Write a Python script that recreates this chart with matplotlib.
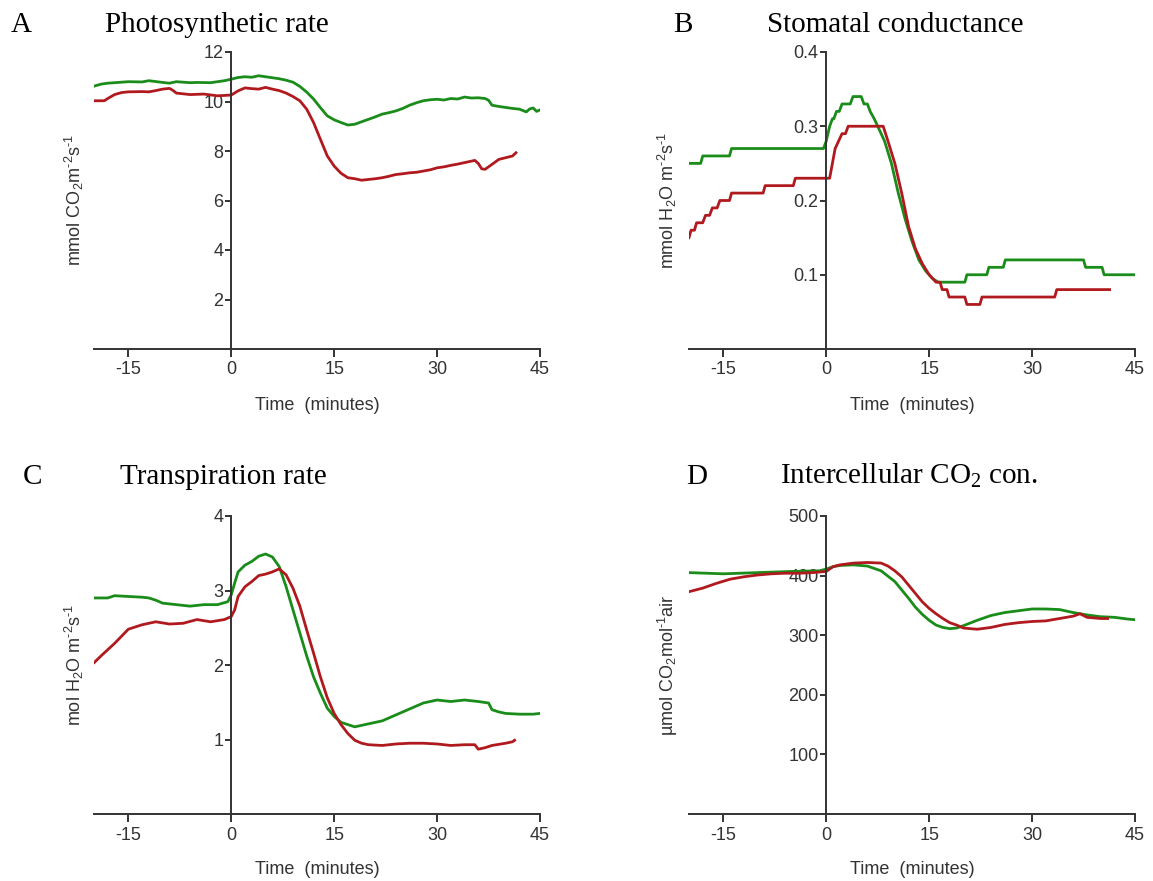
import numpy as np
import matplotlib
matplotlib.use("Agg")
import matplotlib.pyplot as plt

plt.rcParams["font.family"] = ["Liberation Sans", "DejaVu Sans"]
plt.rcParams["mathtext.fontset"] = "custom"
plt.rcParams["mathtext.rm"] = "Liberation Sans"
plt.rcParams["mathtext.it"] = "Liberation Sans"
plt.rcParams["mathtext.default"] = "regular"
plt.rcParams["axes.unicode_minus"] = False

GREEN = "#1a8c1a"
RED = "#b01a1e"
INK = "#333333"

# ---- A: photosynthetic rate (mmol CO2 m-2 s-1)
a_t_green = [-20, -19, -18, -17, -15, -13, -12, -10, -9, -8, -6, -5, -3, -1, 0, 1, 2, 3, 4, 5, 6, 7, 8, 9, 10, 11,
             12, 13, 14, 15, 16, 17, 18, 19, 20, 21, 22, 23, 24, 25, 26, 27, 28, 29, 30, 31, 32, 33, 34, 35, 36,
             37, 37.5, 38, 39, 40, 41, 42, 43, 43.5, 44, 44.5, 45]
a_green = [10.62, 10.70, 10.74, 10.76, 10.80, 10.79, 10.84, 10.77, 10.74, 10.80, 10.76, 10.77, 10.76, 10.84, 10.90,
           10.97, 11.00, 10.98, 11.04, 11.00, 10.96, 10.92, 10.86, 10.78, 10.61, 10.38, 10.10, 9.75, 9.42, 9.26,
           9.15, 9.05, 9.08, 9.18, 9.28, 9.38, 9.49, 9.55, 9.62, 9.72, 9.85, 9.95, 10.03, 10.07, 10.09, 10.06,
           10.12, 10.10, 10.18, 10.14, 10.15, 10.12, 10.05, 9.85, 9.80, 9.76, 9.72, 9.69, 9.58, 9.70, 9.74, 9.60, 9.66]
a_t_red = [-20, -18.5, -18, -17, -16, -15, -13, -12, -11, -10, -9, -8.5, -8, -6, -4, -2, 0, 1, 2, 3, 4, 5, 6, 7, 8,
           9, 10, 11, 12, 13, 14, 15, 16, 17, 18, 19, 20, 21, 22, 23, 24, 25, 26, 27, 28, 29, 30, 31, 32, 33,
           34, 35, 35.5, 36, 36.5, 37, 38, 39, 40, 41, 41.5]
a_red = [10.03, 10.03, 10.12, 10.28, 10.36, 10.39, 10.40, 10.39, 10.44, 10.50, 10.53, 10.45, 10.34, 10.28, 10.30,
         10.23, 10.26, 10.43, 10.55, 10.52, 10.50, 10.57, 10.50, 10.44, 10.34, 10.20, 10.03, 9.69, 9.15, 8.47,
         7.80, 7.39, 7.10, 6.92, 6.88, 6.82, 6.85, 6.88, 6.92, 6.98, 7.05, 7.08, 7.12, 7.14, 7.19, 7.24, 7.32,
         7.36, 7.42, 7.47, 7.53, 7.59, 7.62, 7.50, 7.28, 7.26, 7.46, 7.66, 7.73, 7.80, 7.93]

# ---- B: stomatal conductance, logged at 0.01 resolution
b_t_green = [-20, -18.3, -18.0, -14.1, -13.8, -0.4, 0.0, 0.5, 0.9, 1.1, 1.5, 1.9, 2.3, 3.5, 3.9, 5.1, 5.5, 6.0,
             6.4, 7.0, 7.5, 8.5, 9.5, 10.5, 11.5, 12.5, 13.5, 14.5, 15.5, 16.3, 20.2, 20.5, 23.4, 23.7, 25.8,
             26.1, 37.5, 37.8, 40.2, 40.5, 45]
b_green = [0.25, 0.25, 0.26, 0.26, 0.27, 0.27, 0.28, 0.30, 0.31, 0.31, 0.32, 0.32, 0.33, 0.33, 0.34, 0.34, 0.33,
           0.33, 0.32, 0.31, 0.30, 0.28, 0.25, 0.21, 0.175, 0.145, 0.12, 0.105, 0.095, 0.09, 0.09, 0.10, 0.10,
           0.11, 0.11, 0.12, 0.12, 0.11, 0.11, 0.10, 0.10]
b_t_red = [-20, -19.7, -19.2, -18.9, -18.0, -17.6, -17.0, -16.6, -15.9, -15.5, -14.1, -13.8, -9.2, -8.9, -4.8,
           -4.5, 0.5, 0.9, 1.3, 1.8, 2.3, 2.8, 3.2, 8.3, 9.0, 10.0, 11.0, 12.0, 13.0, 14.0, 15.0, 16.0, 16.6,
           16.9, 17.6, 17.9, 20.2, 20.5, 22.4, 22.7, 33.3, 33.6, 41.3]
b_red = [0.15, 0.16, 0.16, 0.17, 0.17, 0.18, 0.18, 0.19, 0.19, 0.20, 0.20, 0.21, 0.21, 0.22, 0.22, 0.23, 0.23,
         0.25, 0.27, 0.28, 0.29, 0.29, 0.30, 0.30, 0.28, 0.25, 0.21, 0.165, 0.135, 0.115, 0.10, 0.09, 0.09,
         0.08, 0.08, 0.07, 0.07, 0.06, 0.06, 0.07, 0.07, 0.08, 0.08]

# ---- C: transpiration rate (mol H2O m-2 s-1)
c_t_green = [-20, -18, -17, -15, -13, -12, -11, -10, -8, -6, -4, -2, -0.5, 0, 0.5, 1, 2, 3, 4, 5, 6, 7, 8, 9, 10,
             11, 12, 13, 14, 15, 16, 17, 18, 20, 22, 24, 26, 28, 30, 32, 34, 36, 37.5, 38, 39, 40, 42, 44, 45]
c_green = [2.90, 2.90, 2.93, 2.92, 2.91, 2.90, 2.87, 2.83, 2.81, 2.79, 2.81, 2.81, 2.85, 2.94, 3.10, 3.25, 3.34,
           3.39, 3.46, 3.49, 3.45, 3.32, 3.05, 2.74, 2.43, 2.12, 1.84, 1.62, 1.42, 1.31, 1.23, 1.20, 1.17, 1.21,
           1.25, 1.33, 1.41, 1.49, 1.53, 1.51, 1.53, 1.51, 1.49, 1.40, 1.37, 1.35, 1.34, 1.34, 1.35]
c_t_red = [-20, -19, -17, -15, -13, -11, -9, -7, -5, -3, -1, 0, 0.5, 1, 2, 3, 4, 5, 6, 7, 8, 9, 10, 11, 12, 13, 14,
           15, 16, 17, 18, 19, 20, 22, 24, 26, 28, 30, 32, 34, 35.5, 36, 37, 38, 40, 41, 41.3]
c_red = [2.03, 2.12, 2.29, 2.48, 2.54, 2.58, 2.55, 2.56, 2.61, 2.58, 2.61, 2.65, 2.74, 2.92, 3.05, 3.12, 3.20,
         3.22, 3.25, 3.29, 3.21, 3.03, 2.79, 2.47, 2.16, 1.84, 1.56, 1.35, 1.20, 1.08, 0.99, 0.95, 0.93, 0.92,
         0.94, 0.95, 0.95, 0.94, 0.92, 0.93, 0.93, 0.87, 0.89, 0.92, 0.95, 0.97, 0.99]

# ---- D: intercellular CO2 (umol CO2 mol-1 air)
d_t_green = [-20, -15, -10, -5, -1, 0, 1, 2, 4, 6, 8, 10, 12, 13, 14, 15, 16, 17, 18, 19, 20, 22, 24, 26, 28, 30,
             32, 34, 36, 38, 40, 42, 44, 45]
d_green = [405, 403, 405, 407, 408, 411, 415, 417, 418, 416, 408, 390, 362, 347, 335, 325, 317, 313, 311, 312,
           316, 325, 333, 338, 341, 344, 344, 343, 338, 334, 331, 330, 327, 326]
d_t_red = [-20, -18, -16, -14, -12, -10, -8, -6, -4, -2, 0, 1, 2, 4, 6, 8, 9, 10, 11, 12, 13, 14, 15, 16, 17, 18,
           19, 20, 22, 24, 26, 28, 30, 32, 34, 36, 37, 38, 40, 41]
d_red = [373, 379, 387, 394, 398, 401, 403, 404, 404, 405, 407, 415, 418, 421, 422, 421, 416, 408, 398, 384, 370,
         356, 345, 336, 328, 321, 317, 312, 310, 313, 318, 321, 323, 324, 328, 332, 336, 330, 328, 328]

W, H = 1153, 881
fig = plt.figure(figsize=(W / 100, H / 100), dpi=100)


def px_axes(left, top, right, bottom):
    return fig.add_axes([left / W, 1 - bottom / H, (right - left) / W, (bottom - top) / H])


def style(ax, ymax, yticks, yfmt):
    ax.set_xlim(-20, 45)
    ax.set_ylim(0, ymax)
    ax.spines["left"].set_position(("data", 0))
    for s in ("top", "right"):
        ax.spines[s].set_visible(False)
    for s in ("left", "bottom"):
        ax.spines[s].set_color(INK)
        ax.spines[s].set_linewidth(1.4)
    ax.set_xticks([-15, 0, 15, 30, 45])
    ax.set_yticks(yticks)
    ax.set_yticklabels([yfmt(v) for v in yticks])
    ax.tick_params(axis="x", direction="out", length=6, width=1.4, colors=INK, labelsize=13, pad=3)
    ax.tick_params(axis="y", direction="out", length=4.5, width=1.4, colors=INK, labelsize=13, pad=1)
    ax.patch.set_visible(False)


def heading(x_letter, x_title, y, letter, title):
    fig.text(x_letter / W, 1 - y / H, letter, family="Liberation Serif", fontsize=21, color="black")
    fig.text(x_title / W, 1 - y / H, title, family="Liberation Serif", fontsize=21, color="black",
             math_fontfamily="stix")


def labels(ylab, yx, yy, xx, xy):
    fig.text(yx / W, 1 - yy / H, ylab, rotation=90, ha="center", va="center", fontsize=13, color=INK)
    fig.text(xx / W, 1 - xy / H, "Time  (minutes)", ha="center", va="center", fontsize=13, color=INK)


lw = 2.0

axA = px_axes(94, 52, 540, 349)
axA.plot(a_t_green, a_green, color=GREEN, lw=lw)
axA.plot(a_t_red, a_red, color=RED, lw=lw)
style(axA, 12, [2, 4, 6, 8, 10, 12], lambda v: f"{v:g}")
heading(11, 105, 32, "A", "Photosynthetic rate")
labels(r"mmol CO$_2$m$^{\text{-2}}$s$^{\text{-1}}$", 74, 200, 317, 406)

axB = px_axes(689, 52, 1135, 349)
axB.plot(b_t_green, b_green, color=GREEN, lw=lw)
axB.plot(b_t_red, b_red, color=RED, lw=lw)
style(axB, 0.4, [0.1, 0.2, 0.3, 0.4], lambda v: f"{v:.1f}")
heading(673, 767, 32, "B", "Stomatal conductance")
labels(r"mmol H$_2$O m$^{\text{-2}}$s$^{\text{-1}}$", 667, 200, 912, 406)

axC = px_axes(94, 516, 540, 814)
axC.plot(c_t_green, c_green, color=GREEN, lw=lw)
axC.plot(c_t_red, c_red, color=RED, lw=lw)
style(axC, 4, [1, 2, 3, 4], lambda v: f"{v:g}")
heading(23, 120, 484, "C", "Transpiration rate")
labels(r"mol H$_2$O m$^{\text{-2}}$s$^{\text{-1}}$", 74, 665, 317, 870)

axD = px_axes(689, 516, 1135, 814)
axD.plot(d_t_green, d_green, color=GREEN, lw=lw)
axD.plot(d_t_red, d_red, color=RED, lw=lw)
style(axD, 500, [100, 200, 300, 400, 500], lambda v: f"{v:g}")
heading(686, 780, 484, "D", "Intercellular CO$_2$ con.")
labels(r"µmol CO$_2$mol$^{\text{-1}}$air", 668, 665, 912, 870)

fig.savefig("out.png", dpi=100)
